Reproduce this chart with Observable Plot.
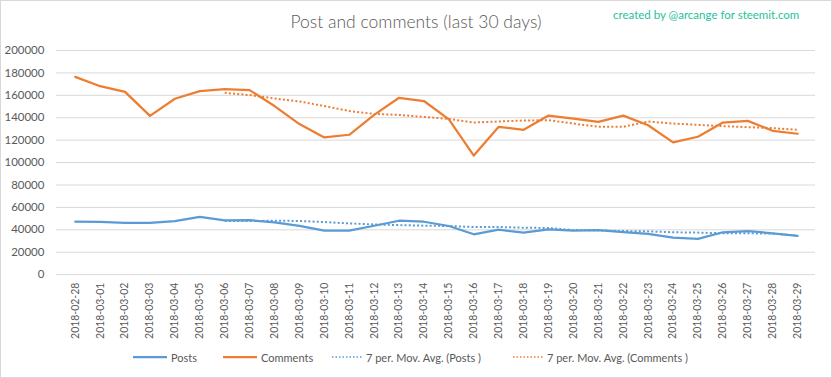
<!DOCTYPE html>
<html>
<head>
<meta charset="utf-8">
<script src="https://cdn.jsdelivr.net/npm/d3@7"></script>
<script src="https://cdn.jsdelivr.net/npm/@observablehq/plot@0.6"></script>
<style>
  html, body { margin: 0; padding: 0; background: #fff; }
  #wrap { position: relative; width: 830px; height: 376px; border: 1px solid #d9d9d9; font-family: Lato, "Open Sans", sans-serif; color: #595959; overflow: hidden; }
  #title { position: absolute; top: 10px; left: 0; width: 830px; text-align: center; font-size: 17.5px; font-weight: 300; color: #595959; }
  #credit { position: absolute; top: 7px; left: 612px; font-size: 11.5px; color: #1fc29b; }
  #chart { position: absolute; top: 39px; left: -1px; }
  #legend { position: absolute; top: 348px; left: 0; width: 830px; font-size: 11px; color: #595959; }
  .item { position: absolute; top: 0; white-space: nowrap; display: flex; align-items: center; height: 16px; }
  .sw { display: inline-block; width: 34px; margin-right: 4px; }
</style>
</head>
<body>
<div id="wrap">
  <div id="title">Post and comments (last 30 days)</div>
  <div id="credit">created by @arcange for steemit.com</div>
  <div id="chart"></div>
  <div id="legend"></div>
</div>
<script>
const dates = ["2018-02-28","2018-03-01","2018-03-02","2018-03-03","2018-03-04","2018-03-05","2018-03-06","2018-03-07","2018-03-08","2018-03-09","2018-03-10","2018-03-11","2018-03-12","2018-03-13","2018-03-14","2018-03-15","2018-03-16","2018-03-17","2018-03-18","2018-03-19","2018-03-20","2018-03-21","2018-03-22","2018-03-23","2018-03-24","2018-03-25","2018-03-26","2018-03-27","2018-03-28","2018-03-29"];
const posts = [47200,47000,46100,46100,47800,51600,48400,48600,46600,43500,39200,39200,43600,48100,47200,43400,36000,40100,37500,40400,39200,39800,38000,36300,33000,31900,37800,38900,36900,34500];
const comments = [176400,168100,163100,141600,156900,163700,165500,164600,150400,134300,122400,124800,142500,157800,154900,138600,106200,131900,129200,141900,139200,136300,141900,133300,118000,123000,135700,137200,128300,125700];
const postsMA = [null,null,null,null,null,null,47800,47800,48100,47900,46900,45700,44800,44200,43700,43400,42500,42500,41900,41600,39800,39500,38900,38600,37800,37500,36900,36900,36600,34800];
const commentsMA = [null,null,null,null,null,null,162200,160200,157200,154500,150400,146000,143400,142500,140700,138900,135700,136600,137500,137800,134800,131900,131900,136600,134800,133600,132500,131600,130700,129200];
const yTicks = [0,20000,40000,60000,80000,100000,120000,140000,160000,180000,200000];

const seriesNames = ["Posts","Comments","7 per. Mov. Avg. (Posts )","7 per. Mov. Avg. (Comments )"];
const colors = ["#5b9bd5","#ed7d31"];

const rows = dates.map((d,i)=>({date:d, posts:posts[i], comments:comments[i], postsMA:postsMA[i], commentsMA:commentsMA[i]}));

const plot = Plot.plot({
  width: 834,
  height: 305,
  marginTop: 10,
  marginBottom: 70,
  marginLeft: 56,
  marginRight: 16,
  style: {fontFamily: "Lato, 'Open Sans', sans-serif", fontSize: "11px", color: "#595959", background: "transparent", overflow: "visible"},
  x: {type: "point", domain: dates, padding: 0.5, label: null},
  y: {domain: [0,200000], label: null},
  marks: [
    Plot.gridY(yTicks, {stroke: "#d9d9d9", strokeOpacity: 1, strokeWidth: 1}),
    Plot.axisY(yTicks, {tickSize: 0, tickPadding: 12, tickFormat: d3.format("d"), fontSize: 11.5, fill: "#595959"}),
    Plot.axisX(dates, {tickSize: 0, tickPadding: 8, tickRotate: -90, fontSize: 10.5, fill: "#595959"}),
    Plot.line(rows, {x: "date", y: "postsMA", stroke: colors[0], strokeWidth: 2, strokeDasharray: "2,2.2", strokeLinecap: "butt"}),
    Plot.line(rows, {x: "date", y: "commentsMA", stroke: colors[1], strokeWidth: 2, strokeDasharray: "2,2.2", strokeLinecap: "butt"}),
    Plot.line(rows, {x: "date", y: "posts", stroke: colors[0], strokeWidth: 2.25, strokeLinejoin: "round", strokeLinecap: "round"}),
    Plot.line(rows, {x: "date", y: "comments", stroke: colors[1], strokeWidth: 2.25, strokeLinejoin: "round", strokeLinecap: "round"})
  ]
});
document.getElementById("chart").appendChild(plot);

const legend = document.getElementById("legend");
const lefts = [132, 222, 331, 512];
seriesNames.forEach((name,i)=>{
  const it = document.createElement("div");
  it.className = "item";
  it.style.left = lefts[i] + "px";
  const dotted = i >= 2;
  const c = colors[i % 2];
  const w = dotted ? 30 : 34;
  it.innerHTML = `<svg class="sw" width="${w}" height="6" style="width:${w}px"><line x1="0" x2="${w}" y1="3" y2="3" stroke="${c}" stroke-width="${dotted ? 1.5 : 2.25}" ${dotted ? 'stroke-dasharray="1.5,2"' : ''}/></svg><span>${name}</span>`;
  legend.appendChild(it);
});
</script>
</body>
</html>
